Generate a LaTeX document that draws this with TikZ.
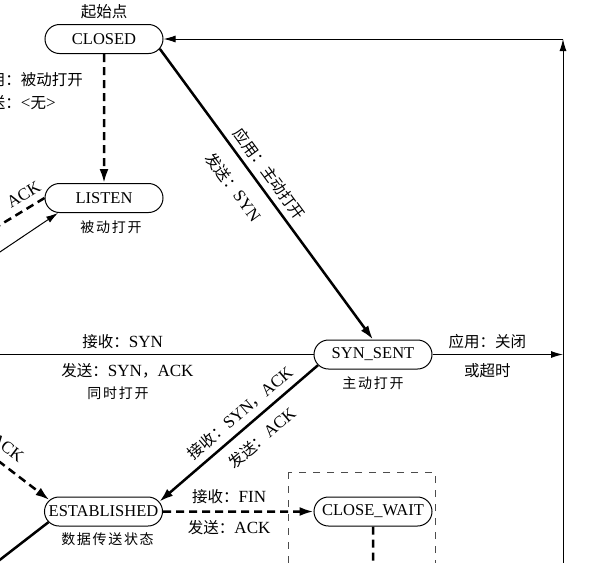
\documentclass[tikz,border=0pt]{standalone}
\usepackage{fontspec}
\setmainfont{Liberation Serif}[Scale=1.1]
\newfontfamily\cjk{Noto Sans CJK SC}
\newfontfamily\cjkdesc[LetterSpace=12]{Noto Sans CJK SC}
\usetikzlibrary{shapes.misc}
\usetikzlibrary{positioning}
\usetikzlibrary{arrows.meta}

\begin{document}
\begin{tikzpicture}[x=0.5pt,y=-0.5pt]
    \tikzset{
      statenode/.style={
        rounded rectangle,
        minimum width=59pt,
        minimum height=14.5pt,
        inner sep=0pt,
        line width=0.5pt,
        font=\fontsize{7.5}{9}\selectfont,
        draw
      },
      lbl/.style={font=\fontsize{7.75}{9}\selectfont, inner sep=1.5pt},
      desc/.style={font=\fontsize{7}{8}\selectfont\cjkdesc, inner sep=0pt},
      fatline/.style={line width=1.25pt},
      fatdash/.style={line width=1.25pt, dash pattern=on 4pt off 2.5pt},
      slimline/.style={line width=0.5pt},
      fathead/.style={-{Latex[length=7pt,width=4.5pt]}},
      slimhead/.style={-{Latex[length=6pt,width=3.5pt]}}
    }
    \useasboundingbox (0,0) rectangle (596,563);
    \clip (0,0) rectangle (596,563);

    %Closed state
    \node[statenode] at (104,39) (closed) {CLOSED};
    %Listen state
    \node[statenode] at (104,198) (listen) {LISTEN};
    %Syn sent state
    \node[statenode] at (373,354.5) (synsent) {SYN\_SENT};
    %Established state
    \node[statenode] at (103.5,511.5) (established) {ESTABLISHED};
    %Close wait state
    \node[statenode] at (373,511.5) (closewait) {CLOSE\_WAIT};

    %State remarks
    \node[lbl, above=1pt of closed] (startlbl) {\cjk 起始点};
    \node[desc, below=3.5pt of listen, xshift=3.5pt] (listenlbl) {被动打开};
    \node[desc, below=3.5pt of synsent] (synsentlbl) {主动打开};
    \node[desc, below=3pt of established, xshift=2pt] (estlbl) {数据传送状态};

    %Loose ends at the edge
    \coordinate (rtop) at (563,39);
    \coordinate (rmid) at (563,354.5);
    \coordinate (rbot) at (563,580);
    \coordinate (simleft) at (-10,354.5);
    \coordinate (rcvdout) at (-10,231);
    \coordinate (rcvdin) at (-12,260);
    \coordinate (rcvdest) at (-12,453);
    \coordinate (finout) at (-12,569);
    \coordinate (cwout) at (373,580);

    %Passive open
    \draw[fatdash, fathead] (closed) -- (listen);
    \node[lbl, anchor=west, align=left, font=\fontsize{7.75}{11.5}\selectfont] (passivelbl) at (-29,91.5)
      {{\cjk 应用：被动打开}\\{\cjk 发送：}<{\cjk 无}>};

    %Active open
    \draw[fatline, fathead] (closed.-10) --
      node[lbl, sloped, above=1.5pt, pos=0.46] {\cjk 应用：主动打开}
      node[lbl, sloped, below=5.5pt, pos=0.43] {{\cjk 发送：}SYN} (synsent.north);

    %Simultaneous open
    \draw[slimline] (synsent.west) --
      node[lbl, above=1pt, pos=0.59] {{\cjk 接收：}SYN}
      node[lbl, below=2.5pt, pos=0.575] (simsend) {{\cjk 发送：}SYN{\cjk ，}ACK} (simleft);
    \node[desc, below=2.5pt of simsend, xshift=-4.75pt] (simlbl) {同时打开};

    %Close or timeout
    \draw[slimline, slimhead] (synsent.east) --
      node[lbl, above=1pt, pos=0.42] {\cjk 应用：关闭}
      node[lbl, below=2.5pt, pos=0.42] {\cjk 或超时} (rmid);
    \draw[slimline, slimhead] (rbot) -- (rtop);
    \draw[slimline, slimhead] (rtop) -- (closed.east);

    %Syn ack received
    \draw[fatline, fathead] (synsent.191) --
      node[lbl, sloped, above=1.5pt, pos=0.43] {{\cjk 接收：}SYN{\cjk ，}ACK}
      node[lbl, sloped, below=3.5pt, pos=0.43] {{\cjk 发送：}ACK} (established.10);

    %Toward SYN_RCVD
    \draw[fatdash] (listen.west) -- node[lbl, sloped, above=2pt, pos=0.25] {ACK} (rcvdout);
    \draw[slimline, slimhead] (rcvdin) -- (listen.198);
    \draw[fatdash, fathead] (rcvdest) -- node[lbl, sloped, above=3pt, pos=0.16] {ACK} (established.168);
    \draw[fatline] (established.191) -- (finout);

    %Passive close
    \draw[fatdash, fathead] (established) --
      node[lbl, above=1.5pt, pos=0.44] {{\cjk 接收：}FIN}
      node[lbl, below=2.5pt, pos=0.44] {{\cjk 发送：}ACK} (closewait);
    \draw[fatdash] (closewait) -- (cwout);
    \draw[slimline, dash pattern=on 3.5pt off 3.5pt, black!70] (288,472) rectangle (435,600);
\end{tikzpicture}
\end{document}
